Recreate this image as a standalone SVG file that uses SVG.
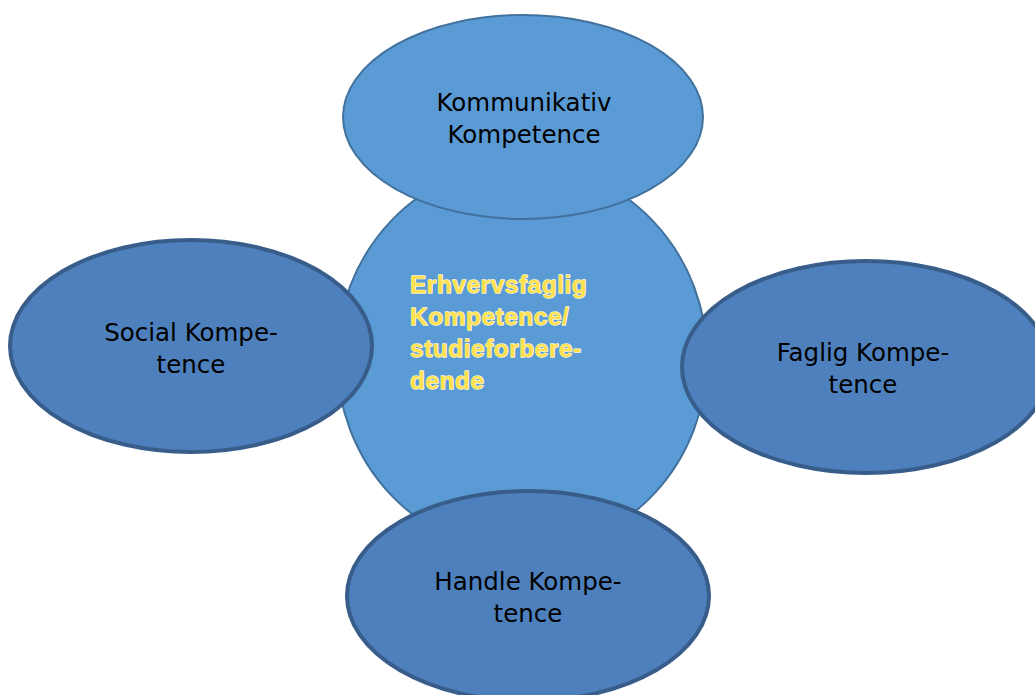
<svg xmlns="http://www.w3.org/2000/svg" width="1035" height="695" viewBox="0 0 1035 695">
<style>
.light{fill:#5B9BD5;stroke:#41719C;stroke-width:2}
.dark{fill:#4D80BC;stroke:#385D8A;stroke-width:4}
.lbl{font-family:"DejaVu Sans","Liberation Sans",sans-serif;font-size:24.5px;fill:#000;text-anchor:middle}
.ctr{font-family:"Liberation Sans",Arial,sans-serif;font-size:24.5px;font-weight:bold;letter-spacing:0.5px;fill:#FFE14D;stroke:#FFF7CF;stroke-width:1.3;paint-order:stroke;stroke-linejoin:round}
</style>
<rect width="1035" height="695" fill="#fff"/>
<g id="connectors"/>
<g id="center">
<ellipse class="light" cx="522" cy="358" rx="185" ry="194"/>
<text class="ctr"><tspan x="410" y="293">Erhvervsfaglig</tspan><tspan x="410" y="325">Kompetence/</tspan><tspan x="410" y="357">studieforbere-</tspan><tspan x="410" y="389">dende</tspan></text>
</g>
<g id="kommunikativ">
<ellipse class="light" cx="523" cy="117" rx="180" ry="102"/>
<text class="lbl"><tspan x="524" y="111">Kommunikativ</tspan><tspan x="524" y="143">Kompetence</tspan></text>
</g>
<g id="social">
<ellipse class="dark" cx="191" cy="346" rx="181" ry="106"/>
<text class="lbl"><tspan x="191" y="341">Social Kompe-</tspan><tspan x="191" y="373">tence</tspan></text>
</g>
<g id="faglig">
<ellipse class="dark" cx="866" cy="367" rx="184" ry="106"/>
<text class="lbl"><tspan x="863" y="361">Faglig Kompe-</tspan><tspan x="863" y="393">tence</tspan></text>
</g>
<g id="handle">
<ellipse class="dark" cx="528" cy="596" rx="181" ry="105"/>
<text class="lbl"><tspan x="528" y="590">Handle Kompe-</tspan><tspan x="528" y="622">tence</tspan></text>
</g>
</svg>
